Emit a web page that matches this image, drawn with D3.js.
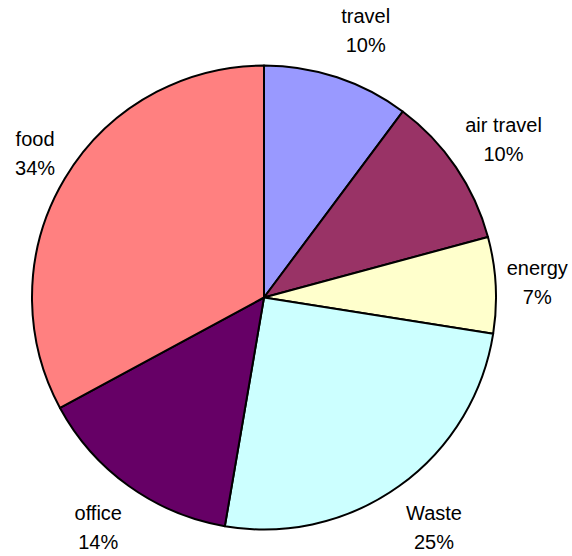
<!DOCTYPE html>
<html>
<head>
<meta charset="utf-8">
<script src="https://cdn.jsdelivr.net/npm/d3@7"></script>
<style>
  html, body { margin: 0; padding: 0; background: #ffffff; }
  svg { display: block; }
</style>
</head>
<body>
<div id="chart"></div>
<script>
// ---- data ----
const categories = ["travel", "air travel", "energy", "Waste", "office", "food"];
const values = [10.2, 10.6, 6.7, 25.2, 14.4, 32.9];
const percentLabels = ["10%", "10%", "7%", "25%", "14%", "34%"];
const colors = ["#9999FF", "#993366", "#FFFFCC", "#CCFFFF", "#660066", "#FF8080"];

// ---- layout ----
const W = 572, H = 556;
const cx = 264, cy = 297.5, R = 232;
const fontSize = 20, lineGap = 29, boxH = 44.3, labelOffset = 10;

const svg = d3.select("#chart").append("svg")
  .attr("width", W).attr("height", H);

const data = categories.map((c, i) => ({ name: c, value: values[i], pct: percentLabels[i], color: colors[i] }));

const pie = d3.pie().sort(null).value(d => d.value);
const arcs = pie(data);
const arc = d3.arc().innerRadius(0).outerRadius(R);

const g = svg.append("g").attr("transform", `translate(${cx},${cy})`);

g.selectAll("path.slice")
  .data(arcs)
  .enter().append("path")
  .attr("class", "slice")
  .attr("d", arc)
  .attr("fill", d => d.data.color)
  .attr("stroke", "#000")
  .attr("stroke-width", 2)
  .attr("stroke-linejoin", "round");

// labels (outside end)
const labels = g.selectAll("g.label")
  .data(arcs)
  .enter().append("g")
  .attr("class", "label");

labels.each(function(d) {
  const sel = d3.select(this);
  const mk = txt => sel.append("text")
    .attr("text-anchor", "middle")
    .attr("font-family", "'Liberation Sans', Arial, sans-serif")
    .attr("font-size", fontSize)
    .attr("fill", "#000")
    .text(txt);
  const t1 = mk(d.data.name);
  const t2 = mk(d.data.pct);
  const w = Math.max(t1.node().getComputedTextLength(), t2.node().getComputedTextLength());
  const mid = (d.startAngle + d.endAngle) / 2;
  const s = Math.sin(mid), c = Math.cos(mid);
  const ra = R + labelOffset;
  const x = ra * s + Math.sign(s) * (w / 2 + 1);
  const y = -ra * c - c * 0.9 * boxH;
  const b1 = y - 7;
  t1.attr("x", x).attr("y", b1);
  t2.attr("x", x).attr("y", b1 + lineGap);
});
</script>
</body>
</html>
